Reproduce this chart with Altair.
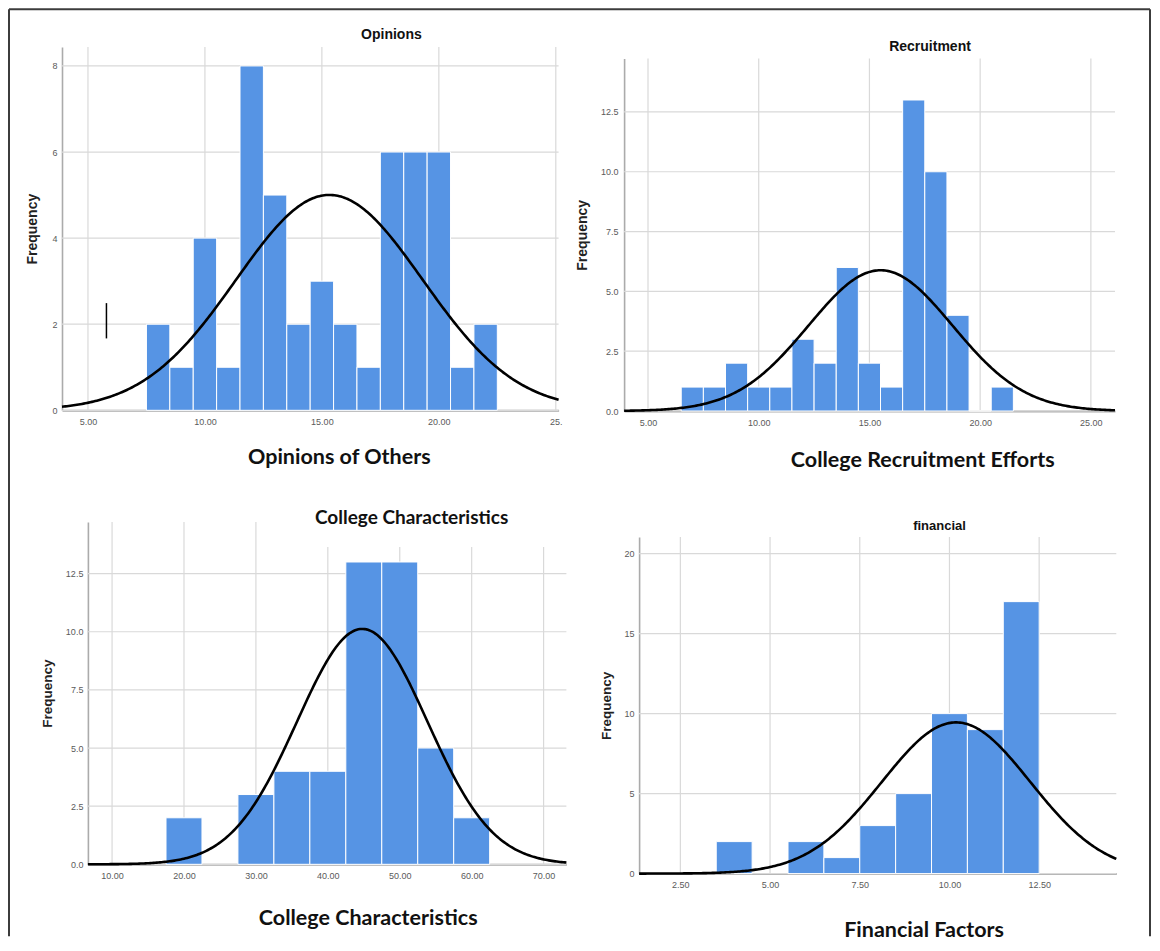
import numpy as np
import pandas as pd
import altair as alt

# ---------------- data ----------------
op_centers = [8, 9, 10, 11, 12, 13, 14, 15, 16, 17, 18, 19, 20, 21, 22]
op_counts = [2, 1, 4, 1, 8, 5, 2, 3, 2, 1, 6, 6, 6, 1, 2]
op_binwidth = 1
op_xticks = [5, 10, 15, 20, 25]
op_yticks = [0, 2, 4, 6, 8]

rec_centers = [7, 8, 9, 10, 11, 12, 13, 14, 15, 16, 17, 18, 19, 20, 21]
rec_counts = [1, 1, 2, 1, 1, 3, 2, 6, 2, 1, 13, 10, 4, 0, 1]
rec_binwidth = 1
rec_xticks = [5, 10, 15, 20, 25]
rec_yticks = [0, 2.5, 5, 7.5, 10, 12.5]

cc_centers = [20, 30, 35, 40, 45, 50, 55, 60]
cc_counts = [2, 3, 4, 4, 13, 13, 5, 2]
cc_binwidth = 5
cc_xticks = [10, 20, 30, 40, 50, 60, 70]
cc_yticks = [0, 2.5, 5, 7.5, 10, 12.5]

fin_centers = [4, 6, 7, 8, 9, 10, 11, 12]
fin_counts = [2, 2, 1, 3, 5, 10, 9, 17]
fin_binwidth = 1
fin_xticks = [2.5, 5, 7.5, 10, 12.5]
fin_yticks = [0, 5, 10, 15, 20]

# small stray vertical stroke visible in the first panel
op_mark_x = [5.79]
op_mark_y0 = [1.67]
op_mark_y1 = [2.49]

BAR = "#5694E4"
GRID = "#d9d9d9"
DOMAIN = "#ababab"
FRAME = "#3c3c3c"

# frame in page coordinates
FL, FT, FR, FB = 9, 9, 1150, 936


def one():
    return pd.DataFrame({"k": [0]})


def seg_rule(x1, y1, x2, y2, color=FRAME, w=2):
    return alt.Chart(one()).mark_rule(color=color, strokeWidth=w).encode(
        x=alt.value(x1), x2=alt.value(x2), y=alt.value(y1), y2=alt.value(y2))


def panel(p):
    VL, VT, VW, VH = p["VL"], p["VT"], p["VW"], p["VH"]
    L, T, W, H = p["L"], p["T"], p["W"], p["H"]
    xo, yo = L - VL, T - VT          # plot area offset inside the view
    centers, counts, bw = p["centers"], p["counts"], p["bw"]
    c = np.array(centers, float)
    n = np.array(counts, float)
    N = n.sum()
    mean = (c * n).sum() / N
    sd = np.sqrt(((c - mean) ** 2 * n).sum() / (N - 1))

    bars_df = pd.DataFrame({"x0": c - bw / 2, "x1": c + bw / 2, "count": n})
    xs_curve = np.linspace(p["xdom"][0], p["xdom"][1], 300)
    ys_curve = N * bw / (sd * np.sqrt(2 * np.pi)) * np.exp(-0.5 * ((xs_curve - mean) / sd) ** 2)
    curve_df = pd.DataFrame({"x": xs_curve, "y": ys_curve})

    xs = alt.Scale(domain=p["xdom"], range=[xo, xo + W], nice=False, zero=False)
    ys = alt.Scale(domain=[0, p["ymax"]], range=[yo + H, yo], nice=False)

    xaxis = alt.Axis(
        values=p["xticks"], format=".2f", labelExpr=p.get("xlabelExpr", "format(datum.value, '.2f')"),
        grid=False, ticks=False, tickSize=0, labelFlush=False, labelOverlap=False,
        labelFont="Liberation Sans", labelFontSize=9, labelColor="#5a5a5a", labelPadding=7,
        domainColor=DOMAIN, domainWidth=2, offset=-(VT + VH - (T + H)),
        title=p["caption"], titleFont="Lato", titleFontSize=21.5, titleFontWeight="bold",
        titleColor="#111111", titleX=p["capX"] - VL, titleY=p["capY"] - (T + H),
        titleBaseline="middle", titleAlign="center")
    yaxis = alt.Axis(
        values=p["yticks"], format=p["yfmt"], grid=False,
        ticks=False, tickSize=0, labelFont="Liberation Sans", labelFontSize=9,
        labelColor="#5a5a5a", labelPadding=p.get("ylabpad", 5),
        domainColor=DOMAIN, domainWidth=1.6, offset=-xo,
        title="Frequency", titleFont="Liberation Sans", titleFontSize=p["freqSize"],
        titleFontWeight="bold", titleColor="#222222", titleX=p["freqX"] - L,
        titleBaseline="middle")

    layers = []
    # gridlines at the tick values
    layers.append(alt.Chart(pd.DataFrame({"v": p["yticks"]})).mark_rule(
        color=GRID, strokeWidth=1.2).encode(
        y=alt.Y("v:Q", scale=ys, axis=yaxis), x=alt.value(xo), x2=alt.value(xo + W)))
    layers.append(alt.Chart(pd.DataFrame({"v": p["xticks"]})).mark_rule(
        color=GRID, strokeWidth=1.2).encode(
        x=alt.X("v:Q", scale=xs, axis=xaxis), y=alt.value(yo), y2=alt.value(yo + H)))
    for cov in p.get("covers", []):
        layers.append(alt.Chart(one()).mark_rect(color="white").encode(
            x=alt.value(cov[0] - VL), x2=alt.value(cov[2] - VL),
            y=alt.value(cov[1] - VT), y2=alt.value(cov[3] - VT)))
    layers.append(alt.Chart(bars_df).mark_bar(color=BAR, stroke="white", strokeWidth=1).encode(
        x=alt.X("x0:Q", scale=xs, axis=xaxis), x2="x1:Q",
        y=alt.Y("count:Q", scale=ys, axis=yaxis), y2=alt.datum(0)))
    layers.append(alt.Chart(curve_df).mark_line(color="black", strokeWidth=2.6).encode(
        x=alt.X("x:Q", scale=xs, axis=xaxis), y=alt.Y("y:Q", scale=ys, axis=yaxis)))
    if "marks" in p:
        mdf = pd.DataFrame(p["marks"])
        layers.append(alt.Chart(mdf).mark_rule(color="black", strokeWidth=1.5).encode(
            x=alt.X("x:Q", scale=xs, axis=xaxis),
            y=alt.Y("y0:Q", scale=ys, axis=yaxis), y2="y1:Q"))
    # small chart title
    layers.append(alt.Chart(one()).mark_text(
        font=p["tFont"], fontSize=p["tSize"], fontWeight="bold", color="#111111",
        align="center", baseline="middle").encode(
        x=alt.value(p["tX"] - VL), y=alt.value(p["tY"] - VT), text=alt.value(p["title"])))
    # frame pieces (page coordinates converted to view coordinates)
    for (x1, y1, x2, y2) in p.get("frame", []):
        layers.append(seg_rule(x1 - VL, y1 - VT, x2 - VL, y2 - VT))
    return alt.layer(*layers).properties(width=VW, height=VH)


# view boxes: shared left edge per column, shared top per row (flush layout)
R1T, R2T = 46.7, 521.7
C1L = 62.0

P1 = dict(VL=C1L, VT=R1T, VW=496.6, VH=363.3,
          L=62, T=46.7, W=496.6, H=363.3,
          centers=op_centers, counts=op_counts, bw=op_binwidth,
          xdom=[3.89, 25.12], ymax=8.44, xticks=op_xticks, yticks=op_yticks, yfmt="d",
          xlabelExpr="datum.value == 25 ? '25.' : format(datum.value, '.2f')",
          caption="Opinions of Others", capX=338.8, capY=456.7,
          freqX=32.5, freqSize=14, title="Opinions", tFont="Liberation Sans", tSize=14,
          tX=391.4, tY=35,
          marks=dict(x=op_mark_x, y0=op_mark_y0, y1=op_mark_y1),
          frame=[(FL, FT, FL, FB), (FL, FT, FR, FT), (FR, FT, FR, FB)])
P2 = dict(VL=623.7, VT=R1T, VW=490.9, VH=364.0,
          L=623.7, T=58.3, W=490.9, H=352.4,
          centers=rec_centers, counts=rec_counts, bw=rec_binwidth,
          xdom=[3.92, 26.09], ymax=14.73, xticks=rec_xticks, yticks=rec_yticks, yfmt=".1f",
          caption="College Recruitment Efforts", capX=921.8, capY=460,
          freqX=581.8, freqSize=14, title="Recruitment", tFont="Liberation Sans", tSize=14,
          tX=929.6, tY=46.7, ylabpad=6)
P3 = dict(VL=C1L, VT=R2T, VW=566.4 - C1L, VH=342.3,
          L=87.9, T=521.7, W=478.5, H=342.3,
          centers=cc_centers, counts=cc_counts, bw=cc_binwidth,
          xdom=[6.64, 73.17], ymax=14.72, xticks=cc_xticks, yticks=cc_yticks, yfmt=".1f",
          caption="College Characteristics", capX=367.7, capY=918.3,
          freqX=47.9, freqSize=13.5, title="College Characteristics", tFont="Lato", tSize=19,
          tX=411.6, tY=518,
          covers=[(300, 521.7, 566.4, 546.7)])
P4 = dict(VL=638.5, VT=R2T, VW=477.2, VH=351.6,
          L=638.5, T=536.7, W=477.2, H=336.6,
          centers=fin_centers, counts=fin_counts, bw=fin_binwidth,
          xdom=[1.35, 14.65], ymax=21.04, xticks=fin_xticks, yticks=fin_yticks, yfmt="d",
          caption="Financial Factors", capX=923, capY=930,
          freqX=605.9, freqSize=13.5, title="financial", tFont="Liberation Sans", tSize=13,
          tX=938.9, tY=525.7)

row1 = alt.hconcat(panel(P1), panel(P2), spacing=P2["VL"] - (P1["VL"] + P1["VW"]), bounds="flush")
row2 = alt.hconcat(panel(P3), panel(P4), spacing=P4["VL"] - (P3["VL"] + P3["VW"]), bounds="flush")

# in a flush layout the nested row group contributes no height, so the
# spacing is the distance between the two rows' top edges
chart = alt.vconcat(row1, row2, spacing=R2T - R1T, bounds="flush").properties(
    padding=0, background="white").configure_view(stroke=None)

chart.save("out.html", embed_options={"renderer": "svg", "actions": False})
